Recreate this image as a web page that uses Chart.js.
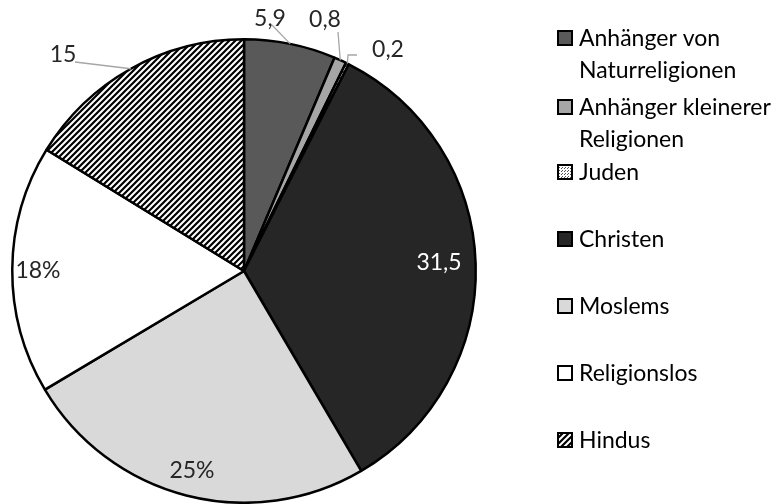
<!DOCTYPE html>
<html>
<head>
<meta charset="utf-8">
<script src="https://cdn.jsdelivr.net/npm/chart.js@4/dist/chart.umd.min.js"></script>
<style>
  html, body { margin: 0; padding: 0; background: #fff; }
  #wrap { width: 776px; height: 504px; }
</style>
</head>
<body>
<div id="wrap"><canvas id="chart" width="776" height="504"></canvas></div>
<script>
// data (slice sizes)
const categories = ['Anhänger von Naturreligionen', 'Anhänger kleinerer Religionen', 'Juden', 'Christen', 'Moslems', 'Religionslos', 'Hindus'];
const values = [5.9, 0.8, 0.2, 31.5, 23, 16, 15];
const valueLabels = ['5,9', '0,8', '0,2', '31,5', '25%', '18%', '15'];

// layout of the value labels (text centre) and leader line start points
const labelPos = [[270, 19], [325, 20], [388, 50], [439, 263], [192, 471], [38, 271], [63, 55]];
const leaders = [[[272, 25]], [[338, 32]], [[357, 55], [348, 55]], null, null, null, [[75, 62]]];
const labelColors = ['#262626', '#262626', '#262626', '#ffffff', '#262626', '#262626', '#262626'];
const legendY = [38, 107, 172, 239, 306, 373, 440];

function stripePattern() {
    const c = document.createElement('canvas');
    c.width = 6; c.height = 6;
    const g = c.getContext('2d');
    g.fillStyle = '#fff';
    g.fillRect(0, 0, 6, 6);
    g.strokeStyle = '#000';
    g.lineWidth = 2.2;
    g.beginPath();
    g.moveTo(-1, 7); g.lineTo(7, -1);
    g.moveTo(-4, 4); g.lineTo(4, -4);
    g.moveTo(2, 10); g.lineTo(10, 2);
    g.stroke();
    return g.createPattern(c, 'repeat');
}

function dotPattern() {
    const c = document.createElement('canvas');
    c.width = 3; c.height = 3;
    const g = c.getContext('2d');
    g.fillStyle = '#fff';
    g.fillRect(0, 0, 3, 3);
    g.fillStyle = '#555';
    g.fillRect(0, 0, 1, 1);
    g.fillRect(1, 2, 1, 1);
    return g.createPattern(c, 'repeat');
}

const colors = ['#595959', '#a6a6a6', dotPattern(), '#262626', '#d9d9d9', '#ffffff', stripePattern()];
const FONT = '23px Lato';

const labelPlugin = {
    id: 'valueLabels',
    afterDatasetsDraw(chart) {
        const ctx = chart.ctx;
        const arcs = chart.getDatasetMeta(0).data;
        ctx.save();
        arcs.forEach((arc, i) => {
            const p = arc.getProps(['x', 'y', 'startAngle', 'endAngle', 'outerRadius'], true);
            const mid = (p.startAngle + p.endAngle) / 2;
            if (leaders[i]) {
                const pts = leaders[i].concat([[p.x + Math.cos(mid) * p.outerRadius, p.y + Math.sin(mid) * p.outerRadius]]);
                ctx.strokeStyle = '#a6a6a6';
                ctx.lineWidth = 1.3;
                ctx.beginPath();
                ctx.moveTo(pts[0][0], pts[0][1]);
                for (let k = 1; k < pts.length; k++) ctx.lineTo(pts[k][0], pts[k][1]);
                ctx.stroke();
            }
            ctx.font = FONT;
            ctx.fillStyle = labelColors[i];
            ctx.textAlign = 'center';
            ctx.textBaseline = 'middle';
            ctx.fillText(valueLabels[i], labelPos[i][0], labelPos[i][1]);
        });
        ctx.restore();
    }
};

function wrap(ctx, text, maxW) {
    const words = text.split(' ');
    const lines = [];
    let line = '';
    words.forEach(w => {
        const t = line ? line + ' ' + w : w;
        if (line && ctx.measureText(t).width > maxW) {
            lines.push(line);
            line = w;
        } else {
            line = t;
        }
    });
    lines.push(line);
    return lines;
}

const legendPlugin = {
    id: 'sideLegend',
    afterDraw(chart) {
        const ctx = chart.ctx;
        const boxX = 558, box = 14, textX = 579;
        ctx.save();
        ctx.font = FONT;
        categories.forEach((name, i) => {
            const y = legendY[i];
            ctx.fillStyle = colors[i];
            ctx.fillRect(boxX, y - box / 2, box, box);
            ctx.strokeStyle = '#000';
            ctx.lineWidth = 2;
            ctx.strokeRect(boxX, y - box / 2, box, box);
            ctx.fillStyle = '#000';
            ctx.textAlign = 'left';
            ctx.textBaseline = 'alphabetic';
            wrap(ctx, name, 776 - textX - 1).forEach((ln, k) => {
                ctx.fillText(ln, textX, y + 8 + k * 32);
            });
        });
        ctx.restore();
    }
};

new Chart(document.getElementById('chart'), {
    type: 'pie',
    data: {
        labels: categories,
        datasets: [{
            data: values,
            backgroundColor: colors,
            borderColor: '#000',
            borderWidth: 2.5
        }]
    },
    options: {
        responsive: false,
        animation: false,
        layout: { padding: { left: 11, top: 38, right: 299, bottom: 0 } },
        plugins: {
            legend: { display: false },
            tooltip: { enabled: false }
        }
    },
    plugins: [labelPlugin, legendPlugin]
});
</script>
</body>
</html>
